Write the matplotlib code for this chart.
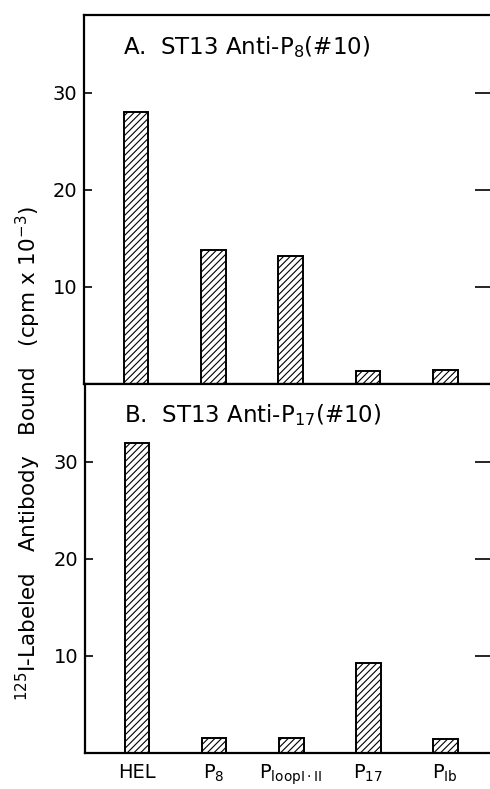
import matplotlib
matplotlib.use("Agg")
import matplotlib.pyplot as plt
import numpy as np

plt.rcParams['font.family'] = ['DejaVu Sans']
plt.rcParams['hatch.linewidth'] = 0.8
plt.rcParams['mathtext.default'] = 'regular'

categories = ['HEL', r'P$_{8}$', r'P$_{loopI\cdot II}$', r'P$_{17}$', r'P$_{Ib}$']
values_A = [28.0, 13.8, 13.2, 1.3, 1.4]
values_B = [31.9, 1.5, 1.5, 9.3, 1.4]
title_A = r'A.  ST13 Anti-P$_{8}$(#10)'
title_B = r'B.  ST13 Anti-P$_{17}$(#10)'
yticks = [10, 20, 30]
ylabel = r'$^{125}$I-Labeled   Antibody   Bound   (cpm x 10$^{-3}$)'

W, H = 490, 789
fig = plt.figure(figsize=(W / 100, H / 100), dpi=100)

def px_axes(left, top, right, bottom):
    return fig.add_axes([left / W, 1 - bottom / H, (right - left) / W, (bottom - top) / H])

axA = px_axes(84, 15, 493, 384)
axB = px_axes(85, 384, 493, 753)

x = np.arange(len(categories))
for ax, vals, title, tb in ((axA, values_A, title_A, 0.893), (axB, values_B, title_B, 0.897)):
    ax.bar(x, vals, width=0.32, facecolor='white', edgecolor='black',
           linewidth=1.4, hatch='/////')
    ax.set_xlim(-0.674, 4.617)
    ax.set_ylim(0, 38)
    ax.set_yticks(yticks)
    ax.tick_params(axis='y', which='both', direction='in', length=6, width=1.2,
                   labelsize=14, pad=5, right=True)
    for sp in ax.spines.values():
        sp.set_linewidth(1.6)
    ax.text(0.096, tb, title, transform=ax.transAxes, fontsize=16.5,
            ha='left', va='baseline')
    for t in ax.yaxis.get_major_ticks():
        t.tick2line.set_markersize(13)

axA.set_xticks([])
axB.set_xticks(x)
axB.set_xticklabels(categories, fontsize=14)
axB.tick_params(axis='x', length=0, pad=7)

fig.text(0.058, 0.425, ylabel, rotation=90, ha='center', va='center', fontsize=15.5)

fig.savefig('out.png', dpi=100)
